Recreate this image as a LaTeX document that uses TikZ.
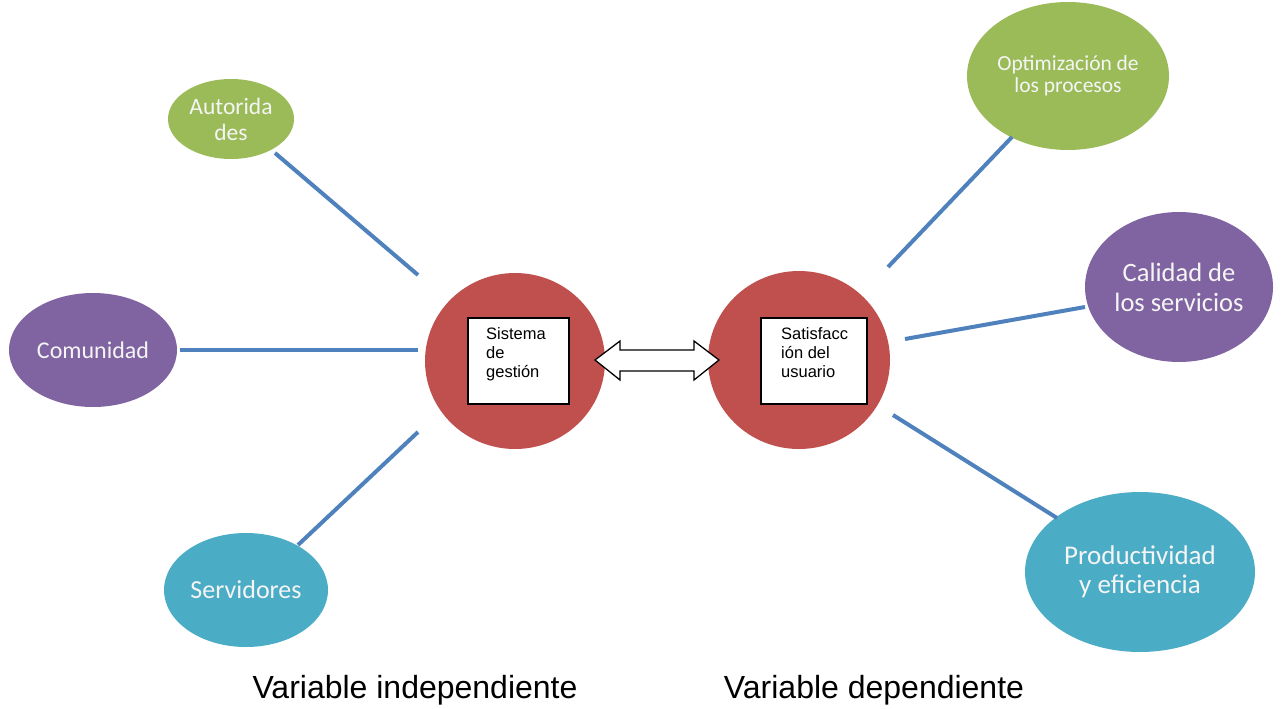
\documentclass[tikz,border=0pt]{standalone}
\usepackage{fontspec}
\setmainfont{Liberation Sans}
\newfontfamily\carlitofont{Carlito}
\usetikzlibrary{shapes.geometric}
\definecolor{cgreen}{HTML}{9BBB59}
\definecolor{cpurple}{HTML}{8064A2}
\definecolor{cteal}{HTML}{4BACC6}
\definecolor{cred}{HTML}{C0504D}
\definecolor{cline}{HTML}{4F81BD}
\begin{document}
\begin{tikzpicture}[x=1pt,y=-1pt,
  ell/.style={ellipse,inner sep=0pt,text=white!92!gray,align=center,font=\carlitofont},
  conn/.style={cline,line width=4pt},
  boxtxt/.style={anchor=north west,align=left,inner sep=0pt,font=\fontsize{16.5}{19}\selectfont},
  lab/.style={font=\fontsize{32}{38}\selectfont}]
\useasboundingbox (0,0) rectangle (1282,709);
% ellipses
\node[ell,fill=cgreen,minimum width=126pt,minimum height=80pt,font=\carlitofont\fontsize{23.5}{26}\selectfont] (aut) at (231,119) {Autorida\\des};
\node[ell,fill=cpurple,minimum width=168pt,minimum height=114pt,font=\carlitofont\fontsize{24}{28}\selectfont] (com) at (93,350) {Comunidad};
\node[ell,fill=cteal,minimum width=164pt,minimum height=114pt,font=\carlitofont\fontsize{26}{30}\selectfont] (ser) at (246,590) {Servidores};
\node[ell,fill=cgreen,minimum width=202pt,minimum height=148pt,font=\carlitofont\fontsize{21.5}{22}\selectfont] (opt) at (1068,76) {Optimización de\\los procesos};
\node[ell,fill=cpurple,minimum width=188pt,minimum height=150pt,font=\carlitofont\fontsize{26.5}{30}\selectfont] (cal) at (1179,287) {Calidad de\\los servicios};
\node[ell,fill=cteal,minimum width=230pt,minimum height=160pt,font=\carlitofont\fontsize{27}{29}\selectfont] (pro) at (1140,572) {Productividad\\y eficiencia};
\node[ell,fill=cred,minimum width=180pt,minimum height=176pt] (sis) at (515,361) {};
\node[ell,fill=cred,minimum width=182pt,minimum height=178pt] (sat) at (799,360) {};
% boxes
\draw[black,line width=1.5pt,fill=white] (468,318) rectangle (569,404);
\node[boxtxt] (sistxt) at (486,327) {Sistema\\de\\gestión};
\draw[black,line width=1.5pt,fill=white] (761,318) rectangle (867,404);
\node[boxtxt] (sattxt) at (781,327) {Satisfacc\\ión del\\usuario};
% double arrow
\draw[black,line width=1.3pt,fill=white,line join=miter]
  (595,360) -- (620,341) -- (620,350) -- (694,350) -- (694,341) -- (719,360)
  -- (694,380) -- (694,371) -- (620,371) -- (620,380) -- cycle;
% connectors
\coordinate (a1) at (275,153); \coordinate (a2) at (418,275);
\coordinate (c1) at (180,350); \coordinate (c2) at (418,350);
\coordinate (s1) at (298,545); \coordinate (s2) at (418,432);
\coordinate (o1) at (1012,137); \coordinate (o2) at (888,267);
\coordinate (k1) at (1085,307); \coordinate (k2) at (905,339);
\coordinate (p1) at (1057,518); \coordinate (p2) at (893,415);
\draw[conn] (a1) -- (a2);
\draw[conn] (c1) -- (c2);
\draw[conn] (s1) -- (s2);
\draw[conn] (o1) -- (o2);
\draw[conn] (k1) -- (k2);
\draw[conn] (p1) -- (p2);
% labels
\node[lab] (vi) at (415,690) {Variable independiente};
\node[lab] (vd) at (874,690) {Variable dependiente};
\end{tikzpicture}
\end{document}
